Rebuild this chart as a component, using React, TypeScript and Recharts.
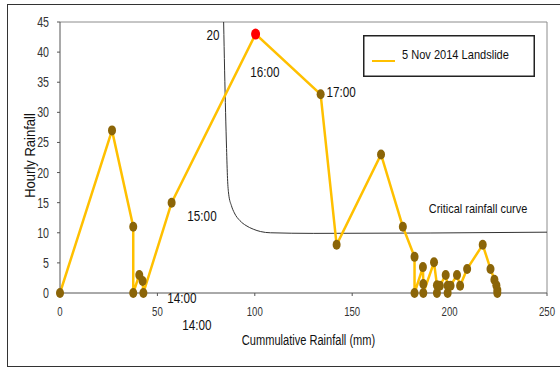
import { LineChart, Line, XAxis, YAxis, ReferenceLine, ReferenceDot, Label, Legend } from 'recharts';

// 5 Nov 2014 event: cumulative rainfall (mm) vs hourly rainfall
const cumRain = [
  0, 26.7, 37.6, 37.6, 40.7, 42.4, 42.8, 57.3, 100.4, 133.8, 142, 164.8, 176, 182, 182,
  186.3, 186.5, 186.5, 192, 193.5, 193.5, 195, 198, 199, 199, 200.5, 203.8, 205.4, 209,
  217, 221, 223, 224, 224.5, 224.5,
];
const hourRain = [
  0, 27, 11, 0, 3, 2, 0, 15, 43, 33, 8, 23, 11, 6, 0,
  4.3, 1.5, 0, 5.1, 1.3, 0, 1.2, 3, 1.2, 0, 1.2, 3, 1.2, 4,
  8, 4, 2.2, 1.3, 0.5, 0,
];

// critical rainfall curve
const critCum = [84, 84.5, 85, 85.5, 86, 86.6, 88, 89.5, 92.4, 95.5, 99.2, 103, 108, 130, 250];
const critHour = [45, 37, 30, 24, 19, 16.4, 14.5, 13.3, 12, 11.2, 10.6, 10.2, 10, 9.9, 10.1];

// text annotations placed in data coordinates
const noteText = ['20', '16:00', '17:00', '15:00', '14:00', '14:00', 'Critical rainfall curve'];
const noteX = [78.5, 105.2, 144.3, 72.9, 62.6, 70.3, 214.6];
const noteY = [42.9, 36.7, 33.4, 12.8, -0.7, -5.3, 14];

const xTicks = [0, 50, 100, 150, 200, 250];
const yTicks = [0, 5, 10, 15, 20, 25, 30, 35, 40, 45];

const FONT = '"Liberation Sans", Arial, sans-serif';
const GOLD = '#FFC000';
const BROWN = '#8B6508';

const rainData = cumRain.map((x, i) => ({ x, y: hourRain[i] }));
const critData = critCum.map((x, i) => ({ x, y: critHour[i] }));
const peak = hourRain.indexOf(Math.max(...hourRain));

// the original picture is squashed sideways, so horizontal text is narrowed
let ctx: CanvasRenderingContext2D | null = null;
const measure = (text: string, size: number) => {
  if (!ctx) ctx = document.createElement('canvas').getContext('2d');
  if (!ctx) return text.length * size * 0.5;
  ctx.font = `${size}px ${FONT}`;
  return ctx.measureText(text).width;
};

const NText = ({ x, y, text, size, ratio = 0.78, anchor = 'middle', angle = 0, fill = '#111' }: any) => (
  <text
    x={x}
    y={y}
    fontSize={size}
    fontFamily={FONT}
    fill={fill}
    textAnchor={anchor}
    dominantBaseline="central"
    textLength={measure(String(text), size) * ratio}
    lengthAdjust="spacingAndGlyphs"
    transform={angle ? `rotate(${angle} ${x} ${y})` : undefined}
  >
    {text}
  </text>
);

const renderDot = (props: any) => {
  const { cx, cy, index } = props;
  const isPeak = index === peak;
  return (
    <ellipse
      key={`d${index}`}
      cx={cx}
      cy={cy}
      rx={isPeak ? 4.5 : 4}
      ry={isPeak ? 5.5 : 5}
      fill={isPeak ? '#FF0000' : BROWN}
      stroke="none"
    />
  );
};

const LegendBox = () => (
  <svg width={172} height={42} style={{ display: 'block' }}>
    <rect x={0.75} y={0.75} width={170.5} height={40.5} fill="#fff" stroke="#222" strokeWidth={1.5} />
    <line x1={9} y1={26} x2={32} y2={26} stroke={GOLD} strokeWidth={2} />
    <NText x={39} y={19} text="5 Nov 2014 Landslide" size={13} ratio={0.85} anchor="start" />
  </svg>
);

export default function App() {
  return (
    <div style={{ position: 'fixed', left: 0, top: 0, width: 560, height: 368, background: '#fff' }}>
      <div
        style={{
          position: 'absolute',
          left: 7,
          top: 4,
          width: 570,
          height: 361,
          border: '1.5px solid #333',
        }}
      />
      <div style={{ position: 'absolute', left: 0, top: 0 }}>
        <LineChart width={560} height={368} margin={{ top: 22, right: 13, bottom: 0, left: 0 }}>
          <XAxis
            dataKey="x"
            type="number"
            domain={[0, 250]}
            ticks={xTicks}
            height={75}
            tickSize={3}
            tickMargin={9}
            axisLine={{ stroke: '#555' }}
            tickLine={{ stroke: '#555' }}
            tick={(p: any) => <NText x={p.x} y={p.y + 6} text={p.payload.value} size={13} ratio={0.74} fill="#333" />}
          >
            <Label
              content={(p: any) => {
                const vb = p.viewBox;
                return (
                  <NText x={vb.x + vb.width / 2 + 5} y={vb.y + 47} text="Cummulative Rainfall (mm)" size={14} ratio={0.79} />
                );
              }}
            />
          </XAxis>
          <YAxis
            type="number"
            domain={[0, 45]}
            ticks={yTicks}
            width={60}
            tickSize={3}
            tickMargin={8}
            axisLine={{ stroke: '#555' }}
            tickLine={{ stroke: '#555' }}
            tick={(p: any) => (
              <NText x={p.x} y={p.y} text={p.payload.value} size={14} ratio={0.76} anchor="end" fill="#333" />
            )}
          >
            <Label
              content={(p: any) => {
                const vb = p.viewBox;
                return <NText x={30} y={vb.y + vb.height / 2 - 2} text="Hourly Rainfall" size={14} ratio={0.93} angle={-90} />;
              }}
            />
          </YAxis>

          {/* plot area frame */}
          <ReferenceLine y={45} stroke="#8c8c8c" strokeWidth={1} />
          <ReferenceLine x={250} stroke="#8c8c8c" strokeWidth={1} />

          <Line
            data={critData}
            dataKey="y"
            type="monotone"
            stroke="#333"
            strokeWidth={1}
            dot={false}
            activeDot={false}
            isAnimationActive={false}
            legendType="none"
          />
          <Line
            data={rainData}
            dataKey="y"
            type="linear"
            stroke={GOLD}
            strokeWidth={2.5}
            dot={renderDot}
            activeDot={false}
            isAnimationActive={false}
          />

          {noteText.map((t, i) => (
            <ReferenceDot
              key={`n${i}`}
              x={noteX[i]}
              y={noteY[i]}
              r={1}
              ifOverflow="visible"
              shape={(p: any) => (
                <NText
                  x={p.cx}
                  y={p.cy}
                  text={t}
                  size={i === noteText.length - 1 ? 13.5 : 15}
                  ratio={i === noteText.length - 1 ? 0.81 : 0.78}
                />
              )}
            />
          ))}

          <Legend
            layout="vertical"
            align="center"
            verticalAlign="middle"
            content={() => <LegendBox />}
            wrapperStyle={{ position: 'absolute', left: 363, top: 35, width: 172, height: 42 }}
          />
        </LineChart>
      </div>
    </div>
  );
}
